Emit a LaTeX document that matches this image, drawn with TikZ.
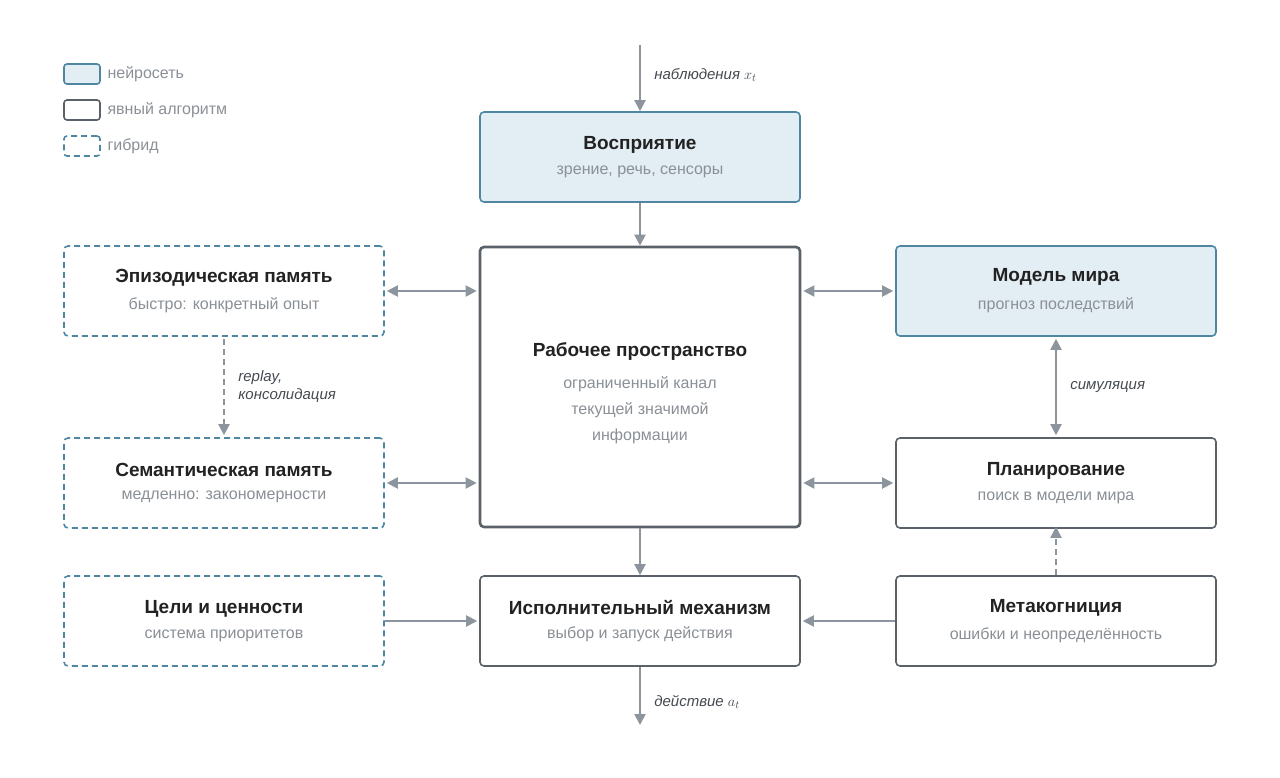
\documentclass[tikz,border=0pt]{standalone}
\usepackage{fontspec}
\setmainfont{Liberation Sans}
\usetikzlibrary{arrows.meta}
\definecolor{nnfill}{HTML}{E3EDF4}
\definecolor{nnline}{HTML}{4F87A3}
\definecolor{algline}{HTML}{5A6169}
\definecolor{arr}{HTML}{8C959D}
\definecolor{ttl}{HTML}{222222}
\definecolor{sub}{HTML}{8A9096}
\definecolor{lbl}{HTML}{444A50}
\begin{document}
\begin{tikzpicture}[x=1pt,y=-1pt,
  box/.style={rounded corners=4pt,line width=1.6pt,minimum width=320pt,minimum height=90pt,align=center,inner sep=0pt},
  nn/.style={box,draw=nnline,fill=nnfill},
  alg/.style={box,draw=algline,fill=white},
  hyb/.style={box,draw=nnline,dash pattern=on 6pt off 4pt,fill=white},
  lg/.style={rounded corners=3pt,line width=1.6pt,minimum width=36pt,minimum height=20pt,inner sep=0pt},
  a/.style={draw=arr,line width=2pt,-{Triangle[length=11pt,width=11pt]}},
  aa/.style={draw=arr,line width=2pt,{Triangle[length=11pt,width=11pt]}-{Triangle[length=11pt,width=11pt]}},
  el/.style={font=\itshape\fontsize{15}{18}\selectfont,text=lbl,anchor=west,align=left},
  lt/.style={font=\fontsize{16}{19}\selectfont,text=sub,anchor=west}]
\useasboundingbox (0,0) rectangle (1280,778);
\newcommand{\bt}[2]{{\fontsize{19}{22}\selectfont\bfseries\color{ttl}#1}\\[11pt]{\fontsize{16}{20}\selectfont\color{sub}#2}}
% legend
\node[lg,draw=nnline,fill=nnfill] (l1) at (82,74) {};
\node[lg,draw=algline] (l2) at (82,110) {};
\node[lg,draw=nnline,dash pattern=on 6pt off 4pt] (l3) at (82,146) {};
\node[lt] (t1) at (104,74) {нейросеть};
\node[lt] (t2) at (104,110) {явный алгоритм};
\node[lt] (t3) at (104,146) {гибрид};
% boxes
\node[nn] (perc) at (640,157) {\bt{Восприятие}{зрение, речь, сенсоры}};
\node[alg,minimum height=280pt,line width=2.6pt] (ws) at (640,387) {};
\node[font=\fontsize{19}{22}\selectfont\bfseries,text=ttl] (wst) at (640,352) {Рабочее пространство};
\node[align=center,font=\fontsize{16}{26}\selectfont,text=sub] (wss) at (640,410) {ограниченный канал\\текущей значимой\\информации};
\node[hyb] (epi) at (224,291) {\bt{Эпизодическая память}{быстро: конкретный опыт}};
\node[hyb] (sem) at (224,483) {\bt{Семантическая память}{медленно: закономерности}};
\node[hyb] (goal) at (224,621) {\bt{Цели и ценности}{система приоритетов}};
\node[alg] (exec) at (640,621) {\bt{Исполнительный механизм}{выбор и запуск действия}};
\node[nn] (world) at (1056,291) {\bt{Модель мира}{прогноз последствий}};
\node[alg] (plan) at (1056,483) {\bt{Планирование}{поиск в модели мира}};
\node[alg] (meta) at (1056,621) {\bt{Метакогниция}{ошибки и неопределённость}};
\coordinate (in) at (640,45);
\coordinate (out) at (640,725);
% arrows
\draw[a] (in) -- (perc.north) node[el,pos=0.45,xshift=10pt] {наблюдения $x_t$};
\draw[a] (perc) -- (ws);
\draw[aa] ([xshift=2pt]epi.east) -- ([xshift=-2pt]ws.west|-epi.east);
\draw[aa] ([xshift=2pt]sem.east) -- ([xshift=-2pt]ws.west|-sem.east);
\draw[aa] ([xshift=2pt]ws.east|-world.west) -- ([xshift=-2pt]world.west);
\draw[aa] ([xshift=2pt]ws.east|-plan.west) -- ([xshift=-2pt]plan.west);
\draw[aa] ([yshift=-2pt]world.south) -- ([yshift=2pt]plan.north) node[el,midway,xshift=10pt] {симуляция};
\draw[a,dash pattern=on 6pt off 4pt] ([yshift=-2pt]epi.south) -- ([yshift=2pt]sem.north) node[el,midway,xshift=10pt] {replay,\\консолидация};
\draw[a] (ws) -- (exec);
\draw[a] (goal) -- ([xshift=-2pt]exec.west);
\draw[a] (meta) -- ([xshift=2pt]exec.east);
\draw[a,dash pattern=on 6pt off 4pt] (meta) -- ([yshift=2pt]plan.south);
\draw[a] (exec) -- (out) node[el,pos=0.6,xshift=10pt] {действие $a_t$};
\end{tikzpicture}
\end{document}
